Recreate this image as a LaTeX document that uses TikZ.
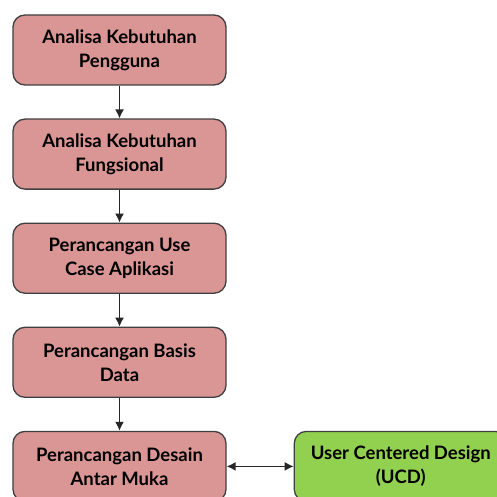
\documentclass[tikz,border=0pt]{standalone}
\usepackage{fontspec}
\setmainfont{Lato}
\usetikzlibrary{positioning, arrows.meta}

\definecolor{boxpink}{HTML}{D99694}
\definecolor{boxgreen}{HTML}{92D050}
\definecolor{boxline}{HTML}{3F3F3F}

\tikzset{
	tahap/.style={rectangle, rounded corners=12pt, draw=boxline, line width=1.3pt,
		fill=boxpink, minimum width=213pt, minimum height=70pt, align=center,
		font=\bfseries\fontsize{18.5}{24}\selectfont, inner sep=2pt},
	alur/.style={-{Latex[length=9pt,width=9pt]}, line width=1.4pt, draw=black!85}
}

\begin{document}
\begin{tikzpicture}[node distance=32.8pt]
		\useasboundingbox (0pt,0pt) rectangle (497pt,-497pt);
		\node[tahap] (t1) at (119.5pt,-50pt) {Analisa Kebutuhan\\Pengguna};
		\node[tahap, below=of t1] (t2) {Analisa Kebutuhan\\Fungsional};
		\node[tahap, below=of t2] (t3) {Perancangan Use\\Case Aplikasi};
		\node[tahap, below=of t3] (t4) {Perancangan Basis\\Data};
		\node[tahap, below=of t4] (t5) {Perancangan Desain\\Antar Muka};
		\node[tahap, fill=boxgreen, right=67pt of t5] (ucd) {User Centered Design\\(UCD)};
		\draw[alur] (t1) -- (t2);
		\draw[alur] (t2) -- (t3);
		\draw[alur] (t3) -- (t4);
		\draw[alur] (t4) -- (t5);
		\draw[alur, {Latex[length=9pt,width=9pt]}-{Latex[length=9pt,width=9pt]}] (t5) -- (ucd);
	\end{tikzpicture}
\end{document}
